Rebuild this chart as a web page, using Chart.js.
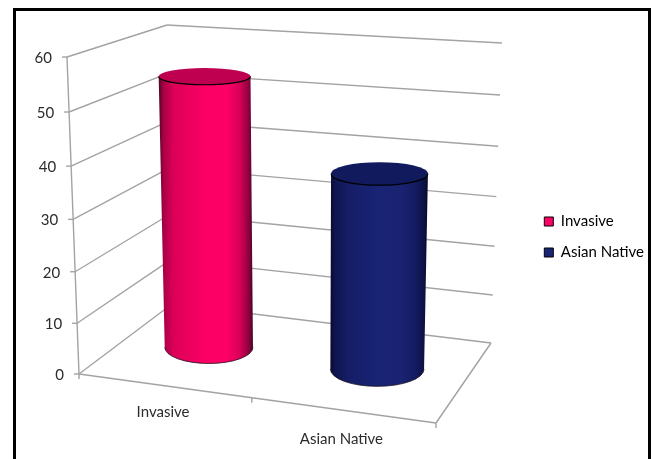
<!DOCTYPE html>
<html>
<head>
<meta charset="utf-8">
<title>Invasive vs Asian Native</title>
<script src="https://cdn.jsdelivr.net/npm/chart.js@4/dist/chart.umd.js"></script>
<style>
  html, body { margin: 0; padding: 0; background: #fff; }
  #wrap { position: relative; width: 653px; height: 459px; overflow: hidden; }
  #frame { position: absolute; left: 13px; top: 8px; width: 632px; height: 460px; border: 3px solid #000; }
  canvas { position: absolute; left: 0; top: 0; }
</style>
</head>
<body>
<div id="wrap">
  <div id="frame"></div>
  <canvas id="chart" width="653" height="459"></canvas>
</div>
<script>
const categories = ['Invasive', 'Asian Native']
const values = [54, 38]
const yTicks = [0, 10, 20, 30, 40, 50, 60]
const barColors = ['#ff0066', '#1a2475']

// corners of the 3d box on screen: floor and roof
const floorQuad = [[79, 374], [436, 423], [491, 343], [172, 304]]
const roofQuad = [[67, 57], [442, 80], [502, 43], [167, 25]]
const heightBend = 1.05
const depthRadius = 0.225
const textColor = '#2b2b2b'
const lineColor = '#a3a3a3'
const font = '15px Lato'

// unit square to quad homography
function squareToQuad(q) {
	const [[x0, y0], [x1, y1], [x2, y2], [x3, y3]] = q
	const dx1 = x1 - x2, dx2 = x3 - x2, sx = x0 - x1 + x2 - x3
	const dy1 = y1 - y2, dy2 = y3 - y2, sy = y0 - y1 + y2 - y3
	const den = dx1 * dy2 - dx2 * dy1
	const g = (sx * dy2 - dx2 * sy) / den
	const h = (dx1 * sy - sx * dy1) / den
	const a = x1 - x0 + g * x1, b = x3 - x0 + h * x3
	const d = y1 - y0 + g * y1, e = y3 - y0 + h * y3
	return (u, w) => {
		const k = g * u + h * w + 1
		return [(a * u + b * w + x0) / k, (d * u + e * w + y0) / k]
	}
}

const onFloor = squareToQuad(floorQuad)
const onRoof = squareToQuad(roofQuad)

function project(u, w, v) {
	const p = onFloor(u, w), q = onRoof(u, w)
	const t = v / (v + (1 - v) * heightBend)
	return [p[0] + (q[0] - p[0]) * t, p[1] + (q[1] - p[1]) * t]
}

function ellipseAt(u, w, v, ru) {
	const c = project(u, w, v)
	const l = project(u - ru, w, v), r = project(u + ru, w, v)
	const f = project(u, w - depthRadius, v), b = project(u, w + depthRadius, v)
	return {x: c[0], y: c[1], rx: Math.abs(r[0] - l[0]) / 2, ry: Math.abs(f[1] - b[1]) / 2}
}

const shades = {
	'#ff0066': {
		top: '#bf0050',
		side: [[0, '#4a0824'], [0.05, '#a80045'], [0.16, '#dc0058'], [0.5, '#fb0064'], [0.72, '#ff0066'], [0.86, '#d80058'], [0.96, '#8a003c'], [1, '#3c0a20']]
	},
	'#1a2475': {
		top: '#111a5c',
		side: [[0, '#070b2e'], [0.05, '#0e1550'], [0.18, '#151d66'], [0.5, '#1a2475'], [0.72, '#1a2372'], [0.88, '#141b60'], [0.97, '#0b1040'], [1, '#060926']]
	}
}

// bar element drawn as a cylinder standing in the 3d box
class CylinderElement extends Chart.BarElement {
	static id = 'cylinder'

	draw(ctx) {
		const {x, y, width} = this.getProps(['x', 'y', 'width'])
		const area = this.$area
		const u = (x - area.left) / area.width
		const v = (area.bottom - y) / area.height
		const ru = width / area.width / 2
		const low = ellipseAt(u, 0.5, 0, ru)
		const high = ellipseAt(u, 0.5, v, ru)
		const shade = shades[this.options.backgroundColor]

		const left = Math.min(low.x - low.rx, high.x - high.rx)
		const right = Math.max(low.x + low.rx, high.x + high.rx)
		const grad = ctx.createLinearGradient(left, 0, right, 0)
		shade.side.forEach(s => grad.addColorStop(s[0], s[1]))

		ctx.save()
		ctx.beginPath()
		ctx.moveTo(high.x - high.rx, high.y)
		ctx.lineTo(low.x - low.rx, low.y)
		ctx.ellipse(low.x, low.y, low.rx, low.ry, 0, Math.PI, 0, true)
		ctx.lineTo(high.x + high.rx, high.y)
		ctx.closePath()
		ctx.fillStyle = grad
		ctx.fill()

		ctx.beginPath()
		ctx.ellipse(low.x, low.y, low.rx, low.ry, 0, Math.PI, 0, true)
		ctx.strokeStyle = 'rgba(20,10,20,0.75)'
		ctx.lineWidth = 1
		ctx.stroke()

		ctx.beginPath()
		ctx.ellipse(high.x, high.y, high.rx, high.ry, 0, 0, Math.PI * 2)
		ctx.fillStyle = shade.top
		ctx.fill()
		ctx.beginPath()
		ctx.ellipse(high.x, high.y, high.rx, high.ry, 0, Math.PI, 0, true)
		ctx.strokeStyle = '#000'
		ctx.lineWidth = 1.2
		ctx.stroke()
		ctx.restore()
	}
}

class CylinderController extends Chart.BarController {
	static id = 'cylinder'
	static defaults = {...Chart.BarController.defaults, dataElementType: 'cylinder'}

	draw() {
		this._cachedMeta.data.forEach(el => {
			el.$area = this.chart.chartArea
			el.draw(this._ctx)
		})
	}
}

Chart.register(CylinderElement, CylinderController)

function strokeLine(ctx, a, b) {
	ctx.beginPath()
	ctx.moveTo(a[0], a[1])
	ctx.lineTo(b[0], b[1])
	ctx.stroke()
}

// walls, floor, ticks and axis text, all placed from the chart's scales
const boxPlugin = {
	id: 'box3d',
	beforeDatasetsDraw(chart) {
		const {ctx, chartArea: area, scales} = chart
		const level = val => (area.bottom - scales.y.getPixelForValue(val)) / area.height
		ctx.save()
		ctx.strokeStyle = lineColor
		ctx.lineWidth = 1.4

		yTicks.forEach(val => {
			const v = level(val)
			strokeLine(ctx, project(0, 0, v), project(0, 1, v))
			strokeLine(ctx, project(0, 1, v), project(1, 1, v))
		})
		strokeLine(ctx, project(0, 0, 0), project(0, 0, 1))
		strokeLine(ctx, project(0, 0, 0), project(1, 0, 0))
		strokeLine(ctx, project(1, 0, 0), project(1, 1, 0))

		ctx.font = font
		ctx.fillStyle = textColor
		ctx.textAlign = 'right'
		ctx.textBaseline = 'middle'
		yTicks.forEach(val => {
			const p = project(0, 0, level(val))
			strokeLine(ctx, p, [p[0] - 5, p[1]])
			ctx.fillText(String(val), p[0] - 15, p[1] + 1)
		})

		const xCount = categories.length
		for (let i = 0; i <= xCount; i++) {
			const p = project(i / xCount, 0, 0)
			strokeLine(ctx, p, [p[0], p[1] + 5])
		}
		ctx.textAlign = 'center'
		categories.forEach((name, i) => {
			const u = (scales.x.getPixelForValue(i) - area.left) / area.width
			const p = project(u, 0, 0)
			ctx.fillText(name, p[0] - 1, p[1] + 26 + i * 3)
		})
		ctx.restore()
	}
}

new Chart(document.getElementById('chart'), {
	type: 'cylinder',
	data: {
		labels: categories,
		datasets: [{data: values, backgroundColor: barColors, clip: false}]
	},
	plugins: [boxPlugin],
	options: {
		responsive: false,
		animation: false,
		layout: {padding: {top: 22, bottom: 7, left: 20, right: -1}},
		datasets: {cylinder: {categoryPercentage: 1, barPercentage: 0.54}},
		scales: {
			x: {type: 'category', display: false},
			y: {type: 'linear', display: false, min: 0, max: 60, ticks: {stepSize: 10}}
		},
		plugins: {
			tooltip: {enabled: false},
			legend: {
				display: true,
				position: 'right',
				labels: {
					font: {family: 'Lato', size: 15},
					color: textColor,
					boxWidth: 9,
					boxHeight: 9,
					padding: 16,
					generateLabels: chart => chart.data.labels.map((text, i) => ({
						text,
						fillStyle: barColors[i],
						strokeStyle: '#000',
						lineWidth: 1,
						index: i
					}))
				}
			}
		}
	}
})
</script>
</body>
</html>
